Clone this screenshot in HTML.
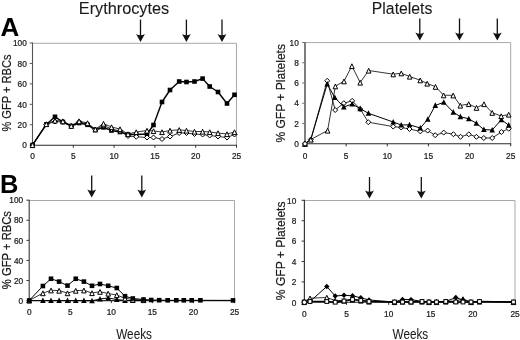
<!DOCTYPE html>
<html><head><meta charset="utf-8"><style>
html,body{margin:0;padding:0;background:#fff;}
body{width:520px;height:340px;overflow:hidden;font-family:"Liberation Sans", sans-serif;}
svg{display:block;will-change:transform;}
</style></head><body>
<svg width="520" height="340" viewBox="0 0 520 340" font-family='"Liberation Sans", sans-serif'><line x1="32.5" y1="43.3" x2="236.5" y2="43.3" stroke="#a8a8a8" stroke-width="1"/>
<line x1="236.5" y1="43.3" x2="236.5" y2="145.2" stroke="#a8a8a8" stroke-width="1"/>
<line x1="32.5" y1="42.5" x2="32.5" y2="145.7" stroke="#555" stroke-width="1.1"/>
<line x1="32.0" y1="145.2" x2="237.0" y2="145.2" stroke="#2a2a2a" stroke-width="1.1"/>
<line x1="29.7" y1="145.2" x2="32.5" y2="145.2" stroke="#555" stroke-width="1"/>
<text x="26.8" y="148.39999999999998" font-size="8.3" text-anchor="end" font-weight="normal" fill="#1a1a1a" stroke="#1a1a1a" stroke-width="0.22">0</text>
<line x1="29.7" y1="124.75999999999999" x2="32.5" y2="124.75999999999999" stroke="#555" stroke-width="1"/>
<text x="26.8" y="127.96" font-size="8.3" text-anchor="end" font-weight="normal" fill="#1a1a1a" stroke="#1a1a1a" stroke-width="0.22">20</text>
<line x1="29.7" y1="104.32" x2="32.5" y2="104.32" stroke="#555" stroke-width="1"/>
<text x="26.8" y="107.52" font-size="8.3" text-anchor="end" font-weight="normal" fill="#1a1a1a" stroke="#1a1a1a" stroke-width="0.22">40</text>
<line x1="29.7" y1="83.88" x2="32.5" y2="83.88" stroke="#555" stroke-width="1"/>
<text x="26.8" y="87.08" font-size="8.3" text-anchor="end" font-weight="normal" fill="#1a1a1a" stroke="#1a1a1a" stroke-width="0.22">60</text>
<line x1="29.7" y1="63.44" x2="32.5" y2="63.44" stroke="#555" stroke-width="1"/>
<text x="26.8" y="66.64" font-size="8.3" text-anchor="end" font-weight="normal" fill="#1a1a1a" stroke="#1a1a1a" stroke-width="0.22">80</text>
<line x1="29.7" y1="43.0" x2="32.5" y2="43.0" stroke="#555" stroke-width="1"/>
<text x="26.8" y="46.2" font-size="8.3" text-anchor="end" font-weight="normal" fill="#1a1a1a" stroke="#1a1a1a" stroke-width="0.22">100</text>
<line x1="32.5" y1="145.2" x2="32.5" y2="147.7" stroke="#2a2a2a" stroke-width="1"/>
<text x="32.5" y="159.20000000000002" font-size="8.3" text-anchor="middle" font-weight="normal" fill="#1a1a1a" stroke="#1a1a1a" stroke-width="0.22">0</text>
<line x1="73.3" y1="145.2" x2="73.3" y2="147.7" stroke="#2a2a2a" stroke-width="1"/>
<text x="73.3" y="159.20000000000002" font-size="8.3" text-anchor="middle" font-weight="normal" fill="#1a1a1a" stroke="#1a1a1a" stroke-width="0.22">5</text>
<line x1="114.1" y1="145.2" x2="114.1" y2="147.7" stroke="#2a2a2a" stroke-width="1"/>
<text x="114.1" y="159.20000000000002" font-size="8.3" text-anchor="middle" font-weight="normal" fill="#1a1a1a" stroke="#1a1a1a" stroke-width="0.22">10</text>
<line x1="154.9" y1="145.2" x2="154.9" y2="147.7" stroke="#2a2a2a" stroke-width="1"/>
<text x="154.9" y="159.20000000000002" font-size="8.3" text-anchor="middle" font-weight="normal" fill="#1a1a1a" stroke="#1a1a1a" stroke-width="0.22">15</text>
<line x1="195.7" y1="145.2" x2="195.7" y2="147.7" stroke="#2a2a2a" stroke-width="1"/>
<text x="195.7" y="159.20000000000002" font-size="8.3" text-anchor="middle" font-weight="normal" fill="#1a1a1a" stroke="#1a1a1a" stroke-width="0.22">20</text>
<line x1="236.5" y1="145.2" x2="236.5" y2="147.7" stroke="#2a2a2a" stroke-width="1"/>
<text x="236.5" y="159.20000000000002" font-size="8.3" text-anchor="middle" font-weight="normal" fill="#1a1a1a" stroke="#1a1a1a" stroke-width="0.22">25</text>
<path d="M32.50,145.00 L46.30,124.50 L55.00,116.80 L62.90,122.00 L71.25,126.00 L79.10,123.00 L87.50,124.80 L95.30,130.00 L103.50,127.40 L111.50,130.50 L120.00,132.00 L128.00,134.50 L136.20,134.50 L147.00,134.00 L153.50,125.00 L162.00,102.00 L170.00,90.00 L179.20,81.50 L186.50,82.00 L194.50,81.50 L202.60,78.60 L209.70,86.50 L218.00,92.00 L227.00,103.50 L234.50,94.80" fill="none" stroke="#000" stroke-width="1.4" stroke-linejoin="round"/>
<rect x="30.20" y="142.70" width="4.6" height="4.6" fill="#000"/>
<rect x="44.00" y="122.20" width="4.6" height="4.6" fill="#000"/>
<rect x="52.70" y="114.50" width="4.6" height="4.6" fill="#000"/>
<rect x="60.60" y="119.70" width="4.6" height="4.6" fill="#000"/>
<rect x="68.95" y="123.70" width="4.6" height="4.6" fill="#000"/>
<rect x="76.80" y="120.70" width="4.6" height="4.6" fill="#000"/>
<rect x="85.20" y="122.50" width="4.6" height="4.6" fill="#000"/>
<rect x="93.00" y="127.70" width="4.6" height="4.6" fill="#000"/>
<rect x="101.20" y="125.10" width="4.6" height="4.6" fill="#000"/>
<rect x="109.20" y="128.20" width="4.6" height="4.6" fill="#000"/>
<rect x="117.70" y="129.70" width="4.6" height="4.6" fill="#000"/>
<rect x="125.70" y="132.20" width="4.6" height="4.6" fill="#000"/>
<rect x="133.90" y="132.20" width="4.6" height="4.6" fill="#000"/>
<rect x="144.70" y="131.70" width="4.6" height="4.6" fill="#000"/>
<rect x="151.20" y="122.70" width="4.6" height="4.6" fill="#000"/>
<rect x="159.70" y="99.70" width="4.6" height="4.6" fill="#000"/>
<rect x="167.70" y="87.70" width="4.6" height="4.6" fill="#000"/>
<rect x="176.90" y="79.20" width="4.6" height="4.6" fill="#000"/>
<rect x="184.20" y="79.70" width="4.6" height="4.6" fill="#000"/>
<rect x="192.20" y="79.20" width="4.6" height="4.6" fill="#000"/>
<rect x="200.30" y="76.30" width="4.6" height="4.6" fill="#000"/>
<rect x="207.40" y="84.20" width="4.6" height="4.6" fill="#000"/>
<rect x="215.70" y="89.70" width="4.6" height="4.6" fill="#000"/>
<rect x="224.70" y="101.20" width="4.6" height="4.6" fill="#000"/>
<rect x="232.20" y="92.50" width="4.6" height="4.6" fill="#000"/>
<path d="M32.50,145.00 L46.30,124.50 L55.00,121.50 L62.90,122.00 L71.25,126.00 L79.10,122.00 L87.50,124.00 L95.30,129.50 L103.50,125.50 L111.50,129.00 L120.00,131.00 L128.00,136.00 L136.20,136.75 L147.00,137.50 L153.50,137.50 L162.00,139.00 L170.00,136.50 L179.20,133.00 L186.50,133.00 L194.50,134.00 L202.60,134.50 L209.70,135.50 L218.00,136.50 L227.00,137.50 L234.50,134.50" fill="none" stroke="#000" stroke-width="0.8" stroke-linejoin="round"/>
<path d="M32.50,142.50 L35.00,145.00 L32.50,147.50 L30.00,145.00 Z" fill="#fff" stroke="#000" stroke-width="1"/>
<path d="M46.30,122.00 L48.80,124.50 L46.30,127.00 L43.80,124.50 Z" fill="#fff" stroke="#000" stroke-width="1"/>
<path d="M55.00,119.00 L57.50,121.50 L55.00,124.00 L52.50,121.50 Z" fill="#fff" stroke="#000" stroke-width="1"/>
<path d="M62.90,119.50 L65.40,122.00 L62.90,124.50 L60.40,122.00 Z" fill="#fff" stroke="#000" stroke-width="1"/>
<path d="M71.25,123.50 L73.75,126.00 L71.25,128.50 L68.75,126.00 Z" fill="#fff" stroke="#000" stroke-width="1"/>
<path d="M79.10,119.50 L81.60,122.00 L79.10,124.50 L76.60,122.00 Z" fill="#fff" stroke="#000" stroke-width="1"/>
<path d="M87.50,121.50 L90.00,124.00 L87.50,126.50 L85.00,124.00 Z" fill="#fff" stroke="#000" stroke-width="1"/>
<path d="M95.30,127.00 L97.80,129.50 L95.30,132.00 L92.80,129.50 Z" fill="#fff" stroke="#000" stroke-width="1"/>
<path d="M103.50,123.00 L106.00,125.50 L103.50,128.00 L101.00,125.50 Z" fill="#fff" stroke="#000" stroke-width="1"/>
<path d="M111.50,126.50 L114.00,129.00 L111.50,131.50 L109.00,129.00 Z" fill="#fff" stroke="#000" stroke-width="1"/>
<path d="M120.00,128.50 L122.50,131.00 L120.00,133.50 L117.50,131.00 Z" fill="#fff" stroke="#000" stroke-width="1"/>
<path d="M128.00,133.50 L130.50,136.00 L128.00,138.50 L125.50,136.00 Z" fill="#fff" stroke="#000" stroke-width="1"/>
<path d="M136.20,134.25 L138.70,136.75 L136.20,139.25 L133.70,136.75 Z" fill="#fff" stroke="#000" stroke-width="1"/>
<path d="M147.00,135.00 L149.50,137.50 L147.00,140.00 L144.50,137.50 Z" fill="#fff" stroke="#000" stroke-width="1"/>
<path d="M153.50,135.00 L156.00,137.50 L153.50,140.00 L151.00,137.50 Z" fill="#fff" stroke="#000" stroke-width="1"/>
<path d="M162.00,136.50 L164.50,139.00 L162.00,141.50 L159.50,139.00 Z" fill="#fff" stroke="#000" stroke-width="1"/>
<path d="M170.00,134.00 L172.50,136.50 L170.00,139.00 L167.50,136.50 Z" fill="#fff" stroke="#000" stroke-width="1"/>
<path d="M179.20,130.50 L181.70,133.00 L179.20,135.50 L176.70,133.00 Z" fill="#fff" stroke="#000" stroke-width="1"/>
<path d="M186.50,130.50 L189.00,133.00 L186.50,135.50 L184.00,133.00 Z" fill="#fff" stroke="#000" stroke-width="1"/>
<path d="M194.50,131.50 L197.00,134.00 L194.50,136.50 L192.00,134.00 Z" fill="#fff" stroke="#000" stroke-width="1"/>
<path d="M202.60,132.00 L205.10,134.50 L202.60,137.00 L200.10,134.50 Z" fill="#fff" stroke="#000" stroke-width="1"/>
<path d="M209.70,133.00 L212.20,135.50 L209.70,138.00 L207.20,135.50 Z" fill="#fff" stroke="#000" stroke-width="1"/>
<path d="M218.00,134.00 L220.50,136.50 L218.00,139.00 L215.50,136.50 Z" fill="#fff" stroke="#000" stroke-width="1"/>
<path d="M227.00,135.00 L229.50,137.50 L227.00,140.00 L224.50,137.50 Z" fill="#fff" stroke="#000" stroke-width="1"/>
<path d="M234.50,132.00 L237.00,134.50 L234.50,137.00 L232.00,134.50 Z" fill="#fff" stroke="#000" stroke-width="1"/>
<path d="M32.50,145.00 L46.30,124.00 L55.00,120.50 L62.90,121.10 L71.25,125.75 L79.10,121.10 L87.50,123.00 L95.30,129.25 L103.50,123.60 L111.50,127.00 L120.00,129.00 L128.00,134.00 L136.20,132.00 L147.00,130.50 L153.50,131.00 L162.00,132.00 L170.00,130.50 L179.20,129.80 L186.50,130.50 L194.50,131.50 L202.60,131.50 L209.70,132.00 L218.00,133.00 L227.00,134.00 L234.50,132.00" fill="none" stroke="#000" stroke-width="0.8" stroke-linejoin="round"/>
<path d="M32.50,142.80 L34.80,147.60 L30.20,147.60 Z" fill="#fff" stroke="#000" stroke-width="1"/>
<path d="M46.30,121.80 L48.60,126.60 L44.00,126.60 Z" fill="#fff" stroke="#000" stroke-width="1"/>
<path d="M55.00,118.30 L57.30,123.10 L52.70,123.10 Z" fill="#fff" stroke="#000" stroke-width="1"/>
<path d="M62.90,118.90 L65.20,123.70 L60.60,123.70 Z" fill="#fff" stroke="#000" stroke-width="1"/>
<path d="M71.25,123.55 L73.55,128.35 L68.95,128.35 Z" fill="#fff" stroke="#000" stroke-width="1"/>
<path d="M79.10,118.90 L81.40,123.70 L76.80,123.70 Z" fill="#fff" stroke="#000" stroke-width="1"/>
<path d="M87.50,120.80 L89.80,125.60 L85.20,125.60 Z" fill="#fff" stroke="#000" stroke-width="1"/>
<path d="M95.30,127.05 L97.60,131.85 L93.00,131.85 Z" fill="#fff" stroke="#000" stroke-width="1"/>
<path d="M103.50,121.40 L105.80,126.20 L101.20,126.20 Z" fill="#fff" stroke="#000" stroke-width="1"/>
<path d="M111.50,124.80 L113.80,129.60 L109.20,129.60 Z" fill="#fff" stroke="#000" stroke-width="1"/>
<path d="M120.00,126.80 L122.30,131.60 L117.70,131.60 Z" fill="#fff" stroke="#000" stroke-width="1"/>
<path d="M128.00,131.80 L130.30,136.60 L125.70,136.60 Z" fill="#fff" stroke="#000" stroke-width="1"/>
<path d="M136.20,129.80 L138.50,134.60 L133.90,134.60 Z" fill="#fff" stroke="#000" stroke-width="1"/>
<path d="M147.00,128.30 L149.30,133.10 L144.70,133.10 Z" fill="#fff" stroke="#000" stroke-width="1"/>
<path d="M153.50,128.80 L155.80,133.60 L151.20,133.60 Z" fill="#fff" stroke="#000" stroke-width="1"/>
<path d="M162.00,129.80 L164.30,134.60 L159.70,134.60 Z" fill="#fff" stroke="#000" stroke-width="1"/>
<path d="M170.00,128.30 L172.30,133.10 L167.70,133.10 Z" fill="#fff" stroke="#000" stroke-width="1"/>
<path d="M179.20,127.60 L181.50,132.40 L176.90,132.40 Z" fill="#fff" stroke="#000" stroke-width="1"/>
<path d="M186.50,128.30 L188.80,133.10 L184.20,133.10 Z" fill="#fff" stroke="#000" stroke-width="1"/>
<path d="M194.50,129.30 L196.80,134.10 L192.20,134.10 Z" fill="#fff" stroke="#000" stroke-width="1"/>
<path d="M202.60,129.30 L204.90,134.10 L200.30,134.10 Z" fill="#fff" stroke="#000" stroke-width="1"/>
<path d="M209.70,129.80 L212.00,134.60 L207.40,134.60 Z" fill="#fff" stroke="#000" stroke-width="1"/>
<path d="M218.00,130.80 L220.30,135.60 L215.70,135.60 Z" fill="#fff" stroke="#000" stroke-width="1"/>
<path d="M227.00,131.80 L229.30,136.60 L224.70,136.60 Z" fill="#fff" stroke="#000" stroke-width="1"/>
<path d="M234.50,129.80 L236.80,134.60 L232.20,134.60 Z" fill="#fff" stroke="#000" stroke-width="1"/>
<line x1="305.0" y1="42.6" x2="510.7" y2="42.6" stroke="#a8a8a8" stroke-width="1"/>
<line x1="510.7" y1="42.6" x2="510.7" y2="143.8" stroke="#a8a8a8" stroke-width="1"/>
<line x1="305.0" y1="42.0" x2="305.0" y2="144.3" stroke="#707070" stroke-width="1.8"/>
<line x1="304.5" y1="143.8" x2="511.2" y2="143.8" stroke="#2a2a2a" stroke-width="1.1"/>
<line x1="302.2" y1="143.8" x2="305.0" y2="143.8" stroke="#707070" stroke-width="1"/>
<text x="298.8" y="147.0" font-size="8.3" text-anchor="end" font-weight="normal" fill="#1a1a1a" stroke="#1a1a1a" stroke-width="0.22">0</text>
<line x1="302.2" y1="123.54" x2="305.0" y2="123.54" stroke="#707070" stroke-width="1"/>
<text x="298.8" y="126.74000000000001" font-size="8.3" text-anchor="end" font-weight="normal" fill="#1a1a1a" stroke="#1a1a1a" stroke-width="0.22">2</text>
<line x1="302.2" y1="103.28" x2="305.0" y2="103.28" stroke="#707070" stroke-width="1"/>
<text x="298.8" y="106.48" font-size="8.3" text-anchor="end" font-weight="normal" fill="#1a1a1a" stroke="#1a1a1a" stroke-width="0.22">4</text>
<line x1="302.2" y1="83.02000000000001" x2="305.0" y2="83.02000000000001" stroke="#707070" stroke-width="1"/>
<text x="298.8" y="86.22000000000001" font-size="8.3" text-anchor="end" font-weight="normal" fill="#1a1a1a" stroke="#1a1a1a" stroke-width="0.22">6</text>
<line x1="302.2" y1="62.760000000000005" x2="305.0" y2="62.760000000000005" stroke="#707070" stroke-width="1"/>
<text x="298.8" y="65.96000000000001" font-size="8.3" text-anchor="end" font-weight="normal" fill="#1a1a1a" stroke="#1a1a1a" stroke-width="0.22">8</text>
<line x1="302.2" y1="42.5" x2="305.0" y2="42.5" stroke="#707070" stroke-width="1"/>
<text x="298.8" y="45.7" font-size="8.3" text-anchor="end" font-weight="normal" fill="#1a1a1a" stroke="#1a1a1a" stroke-width="0.22">10</text>
<line x1="305.0" y1="143.8" x2="305.0" y2="146.3" stroke="#2a2a2a" stroke-width="1"/>
<text x="305.0" y="158.8" font-size="8.3" text-anchor="middle" font-weight="normal" fill="#1a1a1a" stroke="#1a1a1a" stroke-width="0.22">0</text>
<line x1="346.14" y1="143.8" x2="346.14" y2="146.3" stroke="#2a2a2a" stroke-width="1"/>
<text x="346.14" y="158.8" font-size="8.3" text-anchor="middle" font-weight="normal" fill="#1a1a1a" stroke="#1a1a1a" stroke-width="0.22">5</text>
<line x1="387.28" y1="143.8" x2="387.28" y2="146.3" stroke="#2a2a2a" stroke-width="1"/>
<text x="387.28" y="158.8" font-size="8.3" text-anchor="middle" font-weight="normal" fill="#1a1a1a" stroke="#1a1a1a" stroke-width="0.22">10</text>
<line x1="428.42" y1="143.8" x2="428.42" y2="146.3" stroke="#2a2a2a" stroke-width="1"/>
<text x="428.42" y="158.8" font-size="8.3" text-anchor="middle" font-weight="normal" fill="#1a1a1a" stroke="#1a1a1a" stroke-width="0.22">15</text>
<line x1="469.56" y1="143.8" x2="469.56" y2="146.3" stroke="#2a2a2a" stroke-width="1"/>
<text x="469.56" y="158.8" font-size="8.3" text-anchor="middle" font-weight="normal" fill="#1a1a1a" stroke="#1a1a1a" stroke-width="0.22">20</text>
<line x1="510.7" y1="143.8" x2="510.7" y2="146.3" stroke="#2a2a2a" stroke-width="1"/>
<text x="510.7" y="158.8" font-size="8.3" text-anchor="middle" font-weight="normal" fill="#1a1a1a" stroke="#1a1a1a" stroke-width="0.22">25</text>
<path d="M305.00,143.80 L310.80,139.50 L327.20,80.80 L335.20,110.00 L343.80,103.20 L352.20,100.80 L360.20,109.00 L368.30,122.20 L393.20,126.60 L401.20,127.50 L409.50,129.00 L420.30,131.40 L427.70,130.60 L435.20,135.20 L443.70,132.60 L453.40,134.20 L460.50,136.80 L468.80,134.30 L476.40,136.80 L483.80,138.00 L492.20,138.00 L501.40,132.00 L508.70,128.70" fill="none" stroke="#000" stroke-width="0.8" stroke-linejoin="round"/>
<path d="M305.00,143.80 L310.80,139.50 L327.20,84.00 L334.80,97.50 L343.80,107.00 L352.20,104.00 L360.20,108.70 L368.50,113.30 L393.20,122.00 L401.20,125.00 L409.50,124.80 L420.30,128.00 L427.80,119.30 L435.30,105.40 L443.80,102.30 L453.30,112.20 L460.40,116.70 L468.80,118.80 L476.40,123.30 L483.90,129.60 L492.20,130.00 L501.40,119.70 L508.70,125.20" fill="none" stroke="#000" stroke-width="1.0" stroke-linejoin="round"/>
<path d="M305.00,143.80 L310.80,139.50 L327.60,130.50 L335.40,86.20 L344.00,81.20 L351.90,66.00 L360.20,82.50 L368.70,70.50 L393.20,74.20 L401.30,73.20 L409.70,76.50 L420.20,80.20 L427.20,83.50 L435.50,86.70 L443.60,95.20 L453.20,95.30 L460.30,105.50 L468.70,104.00 L476.50,107.70 L484.00,104.00 L492.20,112.70 L501.20,116.00 L508.70,114.50" fill="none" stroke="#000" stroke-width="0.8" stroke-linejoin="round"/>
<path d="M305.00,141.30 L307.50,143.80 L305.00,146.30 L302.50,143.80 Z" fill="#fff" stroke="#000" stroke-width="1"/>
<path d="M310.80,137.00 L313.30,139.50 L310.80,142.00 L308.30,139.50 Z" fill="#fff" stroke="#000" stroke-width="1"/>
<path d="M327.20,78.30 L329.70,80.80 L327.20,83.30 L324.70,80.80 Z" fill="#fff" stroke="#000" stroke-width="1"/>
<path d="M335.20,107.50 L337.70,110.00 L335.20,112.50 L332.70,110.00 Z" fill="#fff" stroke="#000" stroke-width="1"/>
<path d="M343.80,100.70 L346.30,103.20 L343.80,105.70 L341.30,103.20 Z" fill="#fff" stroke="#000" stroke-width="1"/>
<path d="M352.20,98.30 L354.70,100.80 L352.20,103.30 L349.70,100.80 Z" fill="#fff" stroke="#000" stroke-width="1"/>
<path d="M360.20,106.50 L362.70,109.00 L360.20,111.50 L357.70,109.00 Z" fill="#fff" stroke="#000" stroke-width="1"/>
<path d="M368.30,119.70 L370.80,122.20 L368.30,124.70 L365.80,122.20 Z" fill="#fff" stroke="#000" stroke-width="1"/>
<path d="M393.20,124.10 L395.70,126.60 L393.20,129.10 L390.70,126.60 Z" fill="#fff" stroke="#000" stroke-width="1"/>
<path d="M401.20,125.00 L403.70,127.50 L401.20,130.00 L398.70,127.50 Z" fill="#fff" stroke="#000" stroke-width="1"/>
<path d="M409.50,126.50 L412.00,129.00 L409.50,131.50 L407.00,129.00 Z" fill="#fff" stroke="#000" stroke-width="1"/>
<path d="M420.30,128.90 L422.80,131.40 L420.30,133.90 L417.80,131.40 Z" fill="#fff" stroke="#000" stroke-width="1"/>
<path d="M427.70,128.10 L430.20,130.60 L427.70,133.10 L425.20,130.60 Z" fill="#fff" stroke="#000" stroke-width="1"/>
<path d="M435.20,132.70 L437.70,135.20 L435.20,137.70 L432.70,135.20 Z" fill="#fff" stroke="#000" stroke-width="1"/>
<path d="M443.70,130.10 L446.20,132.60 L443.70,135.10 L441.20,132.60 Z" fill="#fff" stroke="#000" stroke-width="1"/>
<path d="M453.40,131.70 L455.90,134.20 L453.40,136.70 L450.90,134.20 Z" fill="#fff" stroke="#000" stroke-width="1"/>
<path d="M460.50,134.30 L463.00,136.80 L460.50,139.30 L458.00,136.80 Z" fill="#fff" stroke="#000" stroke-width="1"/>
<path d="M468.80,131.80 L471.30,134.30 L468.80,136.80 L466.30,134.30 Z" fill="#fff" stroke="#000" stroke-width="1"/>
<path d="M476.40,134.30 L478.90,136.80 L476.40,139.30 L473.90,136.80 Z" fill="#fff" stroke="#000" stroke-width="1"/>
<path d="M483.80,135.50 L486.30,138.00 L483.80,140.50 L481.30,138.00 Z" fill="#fff" stroke="#000" stroke-width="1"/>
<path d="M492.20,135.50 L494.70,138.00 L492.20,140.50 L489.70,138.00 Z" fill="#fff" stroke="#000" stroke-width="1"/>
<path d="M501.40,129.50 L503.90,132.00 L501.40,134.50 L498.90,132.00 Z" fill="#fff" stroke="#000" stroke-width="1"/>
<path d="M508.70,126.20 L511.20,128.70 L508.70,131.20 L506.20,128.70 Z" fill="#fff" stroke="#000" stroke-width="1"/>
<path d="M305.00,140.70 L307.80,146.30 L302.20,146.30 Z" fill="#000"/>
<path d="M310.80,136.40 L313.60,142.00 L308.00,142.00 Z" fill="#000"/>
<path d="M327.20,80.90 L330.00,86.50 L324.40,86.50 Z" fill="#000"/>
<path d="M334.80,94.40 L337.60,100.00 L332.00,100.00 Z" fill="#000"/>
<path d="M343.80,103.90 L346.60,109.50 L341.00,109.50 Z" fill="#000"/>
<path d="M352.20,100.90 L355.00,106.50 L349.40,106.50 Z" fill="#000"/>
<path d="M360.20,105.60 L363.00,111.20 L357.40,111.20 Z" fill="#000"/>
<path d="M368.50,110.20 L371.30,115.80 L365.70,115.80 Z" fill="#000"/>
<path d="M393.20,118.90 L396.00,124.50 L390.40,124.50 Z" fill="#000"/>
<path d="M401.20,121.90 L404.00,127.50 L398.40,127.50 Z" fill="#000"/>
<path d="M409.50,121.70 L412.30,127.30 L406.70,127.30 Z" fill="#000"/>
<path d="M420.30,124.90 L423.10,130.50 L417.50,130.50 Z" fill="#000"/>
<path d="M427.80,116.20 L430.60,121.80 L425.00,121.80 Z" fill="#000"/>
<path d="M435.30,102.30 L438.10,107.90 L432.50,107.90 Z" fill="#000"/>
<path d="M443.80,99.20 L446.60,104.80 L441.00,104.80 Z" fill="#000"/>
<path d="M453.30,109.10 L456.10,114.70 L450.50,114.70 Z" fill="#000"/>
<path d="M460.40,113.60 L463.20,119.20 L457.60,119.20 Z" fill="#000"/>
<path d="M468.80,115.70 L471.60,121.30 L466.00,121.30 Z" fill="#000"/>
<path d="M476.40,120.20 L479.20,125.80 L473.60,125.80 Z" fill="#000"/>
<path d="M483.90,126.50 L486.70,132.10 L481.10,132.10 Z" fill="#000"/>
<path d="M492.20,126.90 L495.00,132.50 L489.40,132.50 Z" fill="#000"/>
<path d="M501.40,116.60 L504.20,122.20 L498.60,122.20 Z" fill="#000"/>
<path d="M508.70,122.10 L511.50,127.70 L505.90,127.70 Z" fill="#000"/>
<path d="M305.00,141.60 L307.30,146.40 L302.70,146.40 Z" fill="#fff" stroke="#000" stroke-width="1"/>
<path d="M310.80,137.30 L313.10,142.10 L308.50,142.10 Z" fill="#fff" stroke="#000" stroke-width="1"/>
<path d="M327.60,128.30 L329.90,133.10 L325.30,133.10 Z" fill="#fff" stroke="#000" stroke-width="1"/>
<path d="M335.40,84.00 L337.70,88.80 L333.10,88.80 Z" fill="#fff" stroke="#000" stroke-width="1"/>
<path d="M344.00,79.00 L346.30,83.80 L341.70,83.80 Z" fill="#fff" stroke="#000" stroke-width="1"/>
<path d="M351.90,63.80 L354.20,68.60 L349.60,68.60 Z" fill="#fff" stroke="#000" stroke-width="1"/>
<path d="M360.20,80.30 L362.50,85.10 L357.90,85.10 Z" fill="#fff" stroke="#000" stroke-width="1"/>
<path d="M368.70,68.30 L371.00,73.10 L366.40,73.10 Z" fill="#fff" stroke="#000" stroke-width="1"/>
<path d="M393.20,72.00 L395.50,76.80 L390.90,76.80 Z" fill="#fff" stroke="#000" stroke-width="1"/>
<path d="M401.30,71.00 L403.60,75.80 L399.00,75.80 Z" fill="#fff" stroke="#000" stroke-width="1"/>
<path d="M409.70,74.30 L412.00,79.10 L407.40,79.10 Z" fill="#fff" stroke="#000" stroke-width="1"/>
<path d="M420.20,78.00 L422.50,82.80 L417.90,82.80 Z" fill="#fff" stroke="#000" stroke-width="1"/>
<path d="M427.20,81.30 L429.50,86.10 L424.90,86.10 Z" fill="#fff" stroke="#000" stroke-width="1"/>
<path d="M435.50,84.50 L437.80,89.30 L433.20,89.30 Z" fill="#fff" stroke="#000" stroke-width="1"/>
<path d="M443.60,93.00 L445.90,97.80 L441.30,97.80 Z" fill="#fff" stroke="#000" stroke-width="1"/>
<path d="M453.20,93.10 L455.50,97.90 L450.90,97.90 Z" fill="#fff" stroke="#000" stroke-width="1"/>
<path d="M460.30,103.30 L462.60,108.10 L458.00,108.10 Z" fill="#fff" stroke="#000" stroke-width="1"/>
<path d="M468.70,101.80 L471.00,106.60 L466.40,106.60 Z" fill="#fff" stroke="#000" stroke-width="1"/>
<path d="M476.50,105.50 L478.80,110.30 L474.20,110.30 Z" fill="#fff" stroke="#000" stroke-width="1"/>
<path d="M484.00,101.80 L486.30,106.60 L481.70,106.60 Z" fill="#fff" stroke="#000" stroke-width="1"/>
<path d="M492.20,110.50 L494.50,115.30 L489.90,115.30 Z" fill="#fff" stroke="#000" stroke-width="1"/>
<path d="M501.20,113.80 L503.50,118.60 L498.90,118.60 Z" fill="#fff" stroke="#000" stroke-width="1"/>
<path d="M508.70,112.30 L511.00,117.10 L506.40,117.10 Z" fill="#fff" stroke="#000" stroke-width="1"/>
<circle cx="305.00" cy="143.80" r="2.10" fill="#fff" stroke="#000" stroke-width="1"/>
<line x1="29.2" y1="200.5" x2="234.5" y2="200.5" stroke="#a8a8a8" stroke-width="1"/>
<line x1="234.5" y1="200.5" x2="234.5" y2="300.6" stroke="#a8a8a8" stroke-width="1"/>
<line x1="29.2" y1="199.7" x2="29.2" y2="301.1" stroke="#383838" stroke-width="1.1"/>
<line x1="28.7" y1="300.6" x2="235.0" y2="300.6" stroke="#2a2a2a" stroke-width="1.1"/>
<line x1="26.4" y1="300.6" x2="29.2" y2="300.6" stroke="#383838" stroke-width="1"/>
<text x="23.2" y="303.8" font-size="8.3" text-anchor="end" font-weight="normal" fill="#1a1a1a" stroke="#1a1a1a" stroke-width="0.22">0</text>
<line x1="26.4" y1="280.52000000000004" x2="29.2" y2="280.52000000000004" stroke="#383838" stroke-width="1"/>
<text x="23.2" y="283.72" font-size="8.3" text-anchor="end" font-weight="normal" fill="#1a1a1a" stroke="#1a1a1a" stroke-width="0.22">20</text>
<line x1="26.4" y1="260.44" x2="29.2" y2="260.44" stroke="#383838" stroke-width="1"/>
<text x="23.2" y="263.64" font-size="8.3" text-anchor="end" font-weight="normal" fill="#1a1a1a" stroke="#1a1a1a" stroke-width="0.22">40</text>
<line x1="26.4" y1="240.36" x2="29.2" y2="240.36" stroke="#383838" stroke-width="1"/>
<text x="23.2" y="243.56" font-size="8.3" text-anchor="end" font-weight="normal" fill="#1a1a1a" stroke="#1a1a1a" stroke-width="0.22">60</text>
<line x1="26.4" y1="220.28" x2="29.2" y2="220.28" stroke="#383838" stroke-width="1"/>
<text x="23.2" y="223.48" font-size="8.3" text-anchor="end" font-weight="normal" fill="#1a1a1a" stroke="#1a1a1a" stroke-width="0.22">80</text>
<line x1="26.4" y1="200.2" x2="29.2" y2="200.2" stroke="#383838" stroke-width="1"/>
<text x="23.2" y="203.39999999999998" font-size="8.3" text-anchor="end" font-weight="normal" fill="#1a1a1a" stroke="#1a1a1a" stroke-width="0.22">100</text>
<line x1="29.2" y1="300.6" x2="29.2" y2="303.1" stroke="#2a2a2a" stroke-width="1"/>
<text x="29.2" y="315.2" font-size="8.3" text-anchor="middle" font-weight="normal" fill="#1a1a1a" stroke="#1a1a1a" stroke-width="0.22">0</text>
<line x1="70.26" y1="300.6" x2="70.26" y2="303.1" stroke="#2a2a2a" stroke-width="1"/>
<text x="70.26" y="315.2" font-size="8.3" text-anchor="middle" font-weight="normal" fill="#1a1a1a" stroke="#1a1a1a" stroke-width="0.22">5</text>
<line x1="111.32000000000001" y1="300.6" x2="111.32000000000001" y2="303.1" stroke="#2a2a2a" stroke-width="1"/>
<text x="111.32000000000001" y="315.2" font-size="8.3" text-anchor="middle" font-weight="normal" fill="#1a1a1a" stroke="#1a1a1a" stroke-width="0.22">10</text>
<line x1="152.38" y1="300.6" x2="152.38" y2="303.1" stroke="#2a2a2a" stroke-width="1"/>
<text x="152.38" y="315.2" font-size="8.3" text-anchor="middle" font-weight="normal" fill="#1a1a1a" stroke="#1a1a1a" stroke-width="0.22">15</text>
<line x1="193.44" y1="300.6" x2="193.44" y2="303.1" stroke="#2a2a2a" stroke-width="1"/>
<text x="193.44" y="315.2" font-size="8.3" text-anchor="middle" font-weight="normal" fill="#1a1a1a" stroke="#1a1a1a" stroke-width="0.22">20</text>
<line x1="234.5" y1="300.6" x2="234.5" y2="303.1" stroke="#2a2a2a" stroke-width="1"/>
<text x="234.5" y="315.2" font-size="8.3" text-anchor="middle" font-weight="normal" fill="#1a1a1a" stroke="#1a1a1a" stroke-width="0.22">25</text>
<path d="M29.20,300.50 L42.90,300.60 L51.00,300.60 L59.10,300.60 L67.50,300.60 L75.75,300.60 L83.90,300.60 L92.00,300.80 L100.00,299.00 L108.20,298.00 L116.80,299.50 L125.00,300.50 L132.80,300.60 L143.50,300.60" fill="none" stroke="#000" stroke-width="1.0" stroke-linejoin="round"/>
<path d="M29.20,300.50 L42.90,293.10 L51.00,290.30 L59.10,290.60 L67.50,293.10 L75.75,290.60 L83.90,290.30 L92.00,293.00 L100.00,291.70 L108.20,293.50 L116.80,295.00 L125.00,298.30 L132.80,299.50 L143.50,300.00" fill="none" stroke="#000" stroke-width="0.8" stroke-linejoin="round"/>
<path d="M29.20,300.50 L42.90,286.00 L51.00,278.75 L59.10,281.60 L67.50,285.60 L75.75,278.75 L83.90,281.60 L92.00,285.80 L100.00,284.00 L108.20,285.80 L116.80,288.00 L125.00,296.20 L132.80,298.50 L143.50,299.50 L151.20,300.00 L159.20,300.20 L167.70,300.30 L176.30,300.30 L183.80,300.30 L191.70,300.30 L200.40,300.30 L233.00,300.40" fill="none" stroke="#000" stroke-width="1.0" stroke-linejoin="round"/>
<path d="M29.20,297.40 L32.00,303.00 L26.40,303.00 Z" fill="#000"/>
<path d="M42.90,297.50 L45.70,303.10 L40.10,303.10 Z" fill="#000"/>
<path d="M51.00,297.50 L53.80,303.10 L48.20,303.10 Z" fill="#000"/>
<path d="M59.10,297.50 L61.90,303.10 L56.30,303.10 Z" fill="#000"/>
<path d="M67.50,297.50 L70.30,303.10 L64.70,303.10 Z" fill="#000"/>
<path d="M75.75,297.50 L78.55,303.10 L72.95,303.10 Z" fill="#000"/>
<path d="M83.90,297.50 L86.70,303.10 L81.10,303.10 Z" fill="#000"/>
<path d="M92.00,297.70 L94.80,303.30 L89.20,303.30 Z" fill="#000"/>
<path d="M100.00,295.90 L102.80,301.50 L97.20,301.50 Z" fill="#000"/>
<path d="M108.20,294.90 L111.00,300.50 L105.40,300.50 Z" fill="#000"/>
<path d="M116.80,296.40 L119.60,302.00 L114.00,302.00 Z" fill="#000"/>
<path d="M125.00,297.40 L127.80,303.00 L122.20,303.00 Z" fill="#000"/>
<path d="M132.80,297.50 L135.60,303.10 L130.00,303.10 Z" fill="#000"/>
<path d="M143.50,297.50 L146.30,303.10 L140.70,303.10 Z" fill="#000"/>
<path d="M29.20,298.30 L31.50,303.10 L26.90,303.10 Z" fill="#fff" stroke="#000" stroke-width="1"/>
<path d="M42.90,290.90 L45.20,295.70 L40.60,295.70 Z" fill="#fff" stroke="#000" stroke-width="1"/>
<path d="M51.00,288.10 L53.30,292.90 L48.70,292.90 Z" fill="#fff" stroke="#000" stroke-width="1"/>
<path d="M59.10,288.40 L61.40,293.20 L56.80,293.20 Z" fill="#fff" stroke="#000" stroke-width="1"/>
<path d="M67.50,290.90 L69.80,295.70 L65.20,295.70 Z" fill="#fff" stroke="#000" stroke-width="1"/>
<path d="M75.75,288.40 L78.05,293.20 L73.45,293.20 Z" fill="#fff" stroke="#000" stroke-width="1"/>
<path d="M83.90,288.10 L86.20,292.90 L81.60,292.90 Z" fill="#fff" stroke="#000" stroke-width="1"/>
<path d="M92.00,290.80 L94.30,295.60 L89.70,295.60 Z" fill="#fff" stroke="#000" stroke-width="1"/>
<path d="M100.00,289.50 L102.30,294.30 L97.70,294.30 Z" fill="#fff" stroke="#000" stroke-width="1"/>
<path d="M108.20,291.30 L110.50,296.10 L105.90,296.10 Z" fill="#fff" stroke="#000" stroke-width="1"/>
<path d="M116.80,292.80 L119.10,297.60 L114.50,297.60 Z" fill="#fff" stroke="#000" stroke-width="1"/>
<path d="M125.00,296.10 L127.30,300.90 L122.70,300.90 Z" fill="#fff" stroke="#000" stroke-width="1"/>
<path d="M132.80,297.30 L135.10,302.10 L130.50,302.10 Z" fill="#fff" stroke="#000" stroke-width="1"/>
<path d="M143.50,297.80 L145.80,302.60 L141.20,302.60 Z" fill="#fff" stroke="#000" stroke-width="1"/>
<rect x="26.90" y="298.20" width="4.6" height="4.6" fill="#000"/>
<rect x="40.60" y="283.70" width="4.6" height="4.6" fill="#000"/>
<rect x="48.70" y="276.45" width="4.6" height="4.6" fill="#000"/>
<rect x="56.80" y="279.30" width="4.6" height="4.6" fill="#000"/>
<rect x="65.20" y="283.30" width="4.6" height="4.6" fill="#000"/>
<rect x="73.45" y="276.45" width="4.6" height="4.6" fill="#000"/>
<rect x="81.60" y="279.30" width="4.6" height="4.6" fill="#000"/>
<rect x="89.70" y="283.50" width="4.6" height="4.6" fill="#000"/>
<rect x="97.70" y="281.70" width="4.6" height="4.6" fill="#000"/>
<rect x="105.90" y="283.50" width="4.6" height="4.6" fill="#000"/>
<rect x="114.50" y="285.70" width="4.6" height="4.6" fill="#000"/>
<rect x="122.70" y="293.90" width="4.6" height="4.6" fill="#000"/>
<rect x="130.50" y="296.20" width="4.6" height="4.6" fill="#000"/>
<rect x="141.20" y="297.20" width="4.6" height="4.6" fill="#000"/>
<rect x="148.90" y="297.70" width="4.6" height="4.6" fill="#000"/>
<rect x="156.90" y="297.90" width="4.6" height="4.6" fill="#000"/>
<rect x="165.40" y="298.00" width="4.6" height="4.6" fill="#000"/>
<rect x="174.00" y="298.00" width="4.6" height="4.6" fill="#000"/>
<rect x="181.50" y="298.00" width="4.6" height="4.6" fill="#000"/>
<rect x="189.40" y="298.00" width="4.6" height="4.6" fill="#000"/>
<rect x="198.10" y="298.00" width="4.6" height="4.6" fill="#000"/>
<rect x="230.70" y="298.10" width="4.6" height="4.6" fill="#000"/>
<line x1="304.4" y1="200.5" x2="515.0" y2="200.5" stroke="#a8a8a8" stroke-width="1"/>
<line x1="515.0" y1="200.5" x2="515.0" y2="302.3" stroke="#a8a8a8" stroke-width="1"/>
<line x1="304.4" y1="199.8" x2="304.4" y2="302.8" stroke="#383838" stroke-width="1.2"/>
<line x1="303.9" y1="302.3" x2="515.5" y2="302.3" stroke="#2a2a2a" stroke-width="1.1"/>
<line x1="301.59999999999997" y1="302.3" x2="304.4" y2="302.3" stroke="#383838" stroke-width="1"/>
<text x="296.3" y="305.5" font-size="8.3" text-anchor="end" font-weight="normal" fill="#1a1a1a" stroke="#1a1a1a" stroke-width="0.22">0</text>
<line x1="301.59999999999997" y1="281.90000000000003" x2="304.4" y2="281.90000000000003" stroke="#383838" stroke-width="1"/>
<text x="296.3" y="285.1" font-size="8.3" text-anchor="end" font-weight="normal" fill="#1a1a1a" stroke="#1a1a1a" stroke-width="0.22">2</text>
<line x1="301.59999999999997" y1="261.5" x2="304.4" y2="261.5" stroke="#383838" stroke-width="1"/>
<text x="296.3" y="264.7" font-size="8.3" text-anchor="end" font-weight="normal" fill="#1a1a1a" stroke="#1a1a1a" stroke-width="0.22">4</text>
<line x1="301.59999999999997" y1="241.10000000000002" x2="304.4" y2="241.10000000000002" stroke="#383838" stroke-width="1"/>
<text x="296.3" y="244.3" font-size="8.3" text-anchor="end" font-weight="normal" fill="#1a1a1a" stroke="#1a1a1a" stroke-width="0.22">6</text>
<line x1="301.59999999999997" y1="220.70000000000002" x2="304.4" y2="220.70000000000002" stroke="#383838" stroke-width="1"/>
<text x="296.3" y="223.9" font-size="8.3" text-anchor="end" font-weight="normal" fill="#1a1a1a" stroke="#1a1a1a" stroke-width="0.22">8</text>
<line x1="301.59999999999997" y1="200.3" x2="304.4" y2="200.3" stroke="#383838" stroke-width="1"/>
<text x="296.3" y="203.5" font-size="8.3" text-anchor="end" font-weight="normal" fill="#1a1a1a" stroke="#1a1a1a" stroke-width="0.22">10</text>
<line x1="304.4" y1="302.3" x2="304.4" y2="304.8" stroke="#2a2a2a" stroke-width="1"/>
<text x="304.4" y="317.2" font-size="8.3" text-anchor="middle" font-weight="normal" fill="#1a1a1a" stroke="#1a1a1a" stroke-width="0.22">0</text>
<line x1="346.52" y1="302.3" x2="346.52" y2="304.8" stroke="#2a2a2a" stroke-width="1"/>
<text x="346.52" y="317.2" font-size="8.3" text-anchor="middle" font-weight="normal" fill="#1a1a1a" stroke="#1a1a1a" stroke-width="0.22">5</text>
<line x1="388.64" y1="302.3" x2="388.64" y2="304.8" stroke="#2a2a2a" stroke-width="1"/>
<text x="388.64" y="317.2" font-size="8.3" text-anchor="middle" font-weight="normal" fill="#1a1a1a" stroke="#1a1a1a" stroke-width="0.22">10</text>
<line x1="430.76" y1="302.3" x2="430.76" y2="304.8" stroke="#2a2a2a" stroke-width="1"/>
<text x="430.76" y="317.2" font-size="8.3" text-anchor="middle" font-weight="normal" fill="#1a1a1a" stroke="#1a1a1a" stroke-width="0.22">15</text>
<line x1="472.88" y1="302.3" x2="472.88" y2="304.8" stroke="#2a2a2a" stroke-width="1"/>
<text x="472.88" y="317.2" font-size="8.3" text-anchor="middle" font-weight="normal" fill="#1a1a1a" stroke="#1a1a1a" stroke-width="0.22">20</text>
<line x1="515.0" y1="302.3" x2="515.0" y2="304.8" stroke="#2a2a2a" stroke-width="1"/>
<text x="515.0" y="317.2" font-size="8.3" text-anchor="middle" font-weight="normal" fill="#1a1a1a" stroke="#1a1a1a" stroke-width="0.22">25</text>
<path d="M304.20,302.00 L310.00,298.20 L326.80,297.50 L335.20,300.50 L344.00,300.50 L352.50,299.50 L360.80,300.50 L369.00,301.50 L394.50,302.00 L402.50,301.50 L411.00,301.50 L422.00,301.50 L429.00,302.00 L436.50,302.00 L445.80,301.50 L455.80,301.00 L463.00,299.00 L471.00,302.00 L479.50,301.50 L513.50,302.00" fill="none" stroke="#000" stroke-width="0.8" stroke-linejoin="round"/>
<path d="M304.20,302.00 L310.00,301.50 L326.80,286.50 L335.20,296.00 L344.00,295.30 L352.50,295.80 L360.80,297.80 L369.00,300.00 L394.50,302.00 L402.50,299.40 L411.00,299.60 L422.00,301.50 L429.00,301.80 L436.50,301.80 L445.80,301.50 L455.80,297.50 L463.00,300.00 L471.00,302.00 L479.50,301.50 L513.50,302.00" fill="none" stroke="#000" stroke-width="1.0" stroke-linejoin="round"/>
<path d="M304.20,302.00 L310.00,301.50 L326.80,301.50 L335.20,302.20 L344.00,301.00 L352.50,299.50 L360.80,300.50 L369.00,301.50 L394.50,302.00 L402.50,302.00 L411.00,302.00 L422.00,301.50 L429.00,302.00 L436.50,302.00 L445.80,301.50 L455.80,302.00 L463.00,302.00 L471.00,302.00 L479.50,301.50 L513.50,302.00" fill="none" stroke="#000" stroke-width="1.6" stroke-linejoin="round"/>
<path d="M304.20,299.80 L306.50,304.60 L301.90,304.60 Z" fill="#fff" stroke="#000" stroke-width="1"/>
<path d="M310.00,296.00 L312.30,300.80 L307.70,300.80 Z" fill="#fff" stroke="#000" stroke-width="1"/>
<path d="M326.80,295.30 L329.10,300.10 L324.50,300.10 Z" fill="#fff" stroke="#000" stroke-width="1"/>
<path d="M335.20,298.30 L337.50,303.10 L332.90,303.10 Z" fill="#fff" stroke="#000" stroke-width="1"/>
<path d="M344.00,298.30 L346.30,303.10 L341.70,303.10 Z" fill="#fff" stroke="#000" stroke-width="1"/>
<path d="M352.50,297.30 L354.80,302.10 L350.20,302.10 Z" fill="#fff" stroke="#000" stroke-width="1"/>
<path d="M360.80,298.30 L363.10,303.10 L358.50,303.10 Z" fill="#fff" stroke="#000" stroke-width="1"/>
<path d="M369.00,299.30 L371.30,304.10 L366.70,304.10 Z" fill="#fff" stroke="#000" stroke-width="1"/>
<path d="M394.50,299.80 L396.80,304.60 L392.20,304.60 Z" fill="#fff" stroke="#000" stroke-width="1"/>
<path d="M402.50,299.30 L404.80,304.10 L400.20,304.10 Z" fill="#fff" stroke="#000" stroke-width="1"/>
<path d="M411.00,299.30 L413.30,304.10 L408.70,304.10 Z" fill="#fff" stroke="#000" stroke-width="1"/>
<path d="M422.00,299.30 L424.30,304.10 L419.70,304.10 Z" fill="#fff" stroke="#000" stroke-width="1"/>
<path d="M429.00,299.80 L431.30,304.60 L426.70,304.60 Z" fill="#fff" stroke="#000" stroke-width="1"/>
<path d="M436.50,299.80 L438.80,304.60 L434.20,304.60 Z" fill="#fff" stroke="#000" stroke-width="1"/>
<path d="M445.80,299.30 L448.10,304.10 L443.50,304.10 Z" fill="#fff" stroke="#000" stroke-width="1"/>
<path d="M455.80,298.80 L458.10,303.60 L453.50,303.60 Z" fill="#fff" stroke="#000" stroke-width="1"/>
<path d="M463.00,296.80 L465.30,301.60 L460.70,301.60 Z" fill="#fff" stroke="#000" stroke-width="1"/>
<path d="M471.00,299.80 L473.30,304.60 L468.70,304.60 Z" fill="#fff" stroke="#000" stroke-width="1"/>
<path d="M479.50,299.30 L481.80,304.10 L477.20,304.10 Z" fill="#fff" stroke="#000" stroke-width="1"/>
<path d="M513.50,299.80 L515.80,304.60 L511.20,304.60 Z" fill="#fff" stroke="#000" stroke-width="1"/>
<path d="M304.20,299.30 L306.90,302.00 L304.20,304.70 L301.50,302.00 Z" fill="#000"/>
<path d="M310.00,298.80 L312.70,301.50 L310.00,304.20 L307.30,301.50 Z" fill="#000"/>
<path d="M326.80,283.80 L329.50,286.50 L326.80,289.20 L324.10,286.50 Z" fill="#000"/>
<path d="M335.20,293.30 L337.90,296.00 L335.20,298.70 L332.50,296.00 Z" fill="#000"/>
<path d="M344.00,292.60 L346.70,295.30 L344.00,298.00 L341.30,295.30 Z" fill="#000"/>
<path d="M352.50,293.10 L355.20,295.80 L352.50,298.50 L349.80,295.80 Z" fill="#000"/>
<path d="M360.80,295.10 L363.50,297.80 L360.80,300.50 L358.10,297.80 Z" fill="#000"/>
<path d="M369.00,297.30 L371.70,300.00 L369.00,302.70 L366.30,300.00 Z" fill="#000"/>
<path d="M394.50,299.30 L397.20,302.00 L394.50,304.70 L391.80,302.00 Z" fill="#000"/>
<path d="M402.50,296.70 L405.20,299.40 L402.50,302.10 L399.80,299.40 Z" fill="#000"/>
<path d="M411.00,296.90 L413.70,299.60 L411.00,302.30 L408.30,299.60 Z" fill="#000"/>
<path d="M422.00,298.80 L424.70,301.50 L422.00,304.20 L419.30,301.50 Z" fill="#000"/>
<path d="M429.00,299.10 L431.70,301.80 L429.00,304.50 L426.30,301.80 Z" fill="#000"/>
<path d="M436.50,299.10 L439.20,301.80 L436.50,304.50 L433.80,301.80 Z" fill="#000"/>
<path d="M445.80,298.80 L448.50,301.50 L445.80,304.20 L443.10,301.50 Z" fill="#000"/>
<path d="M455.80,294.80 L458.50,297.50 L455.80,300.20 L453.10,297.50 Z" fill="#000"/>
<path d="M463.00,297.30 L465.70,300.00 L463.00,302.70 L460.30,300.00 Z" fill="#000"/>
<path d="M471.00,299.30 L473.70,302.00 L471.00,304.70 L468.30,302.00 Z" fill="#000"/>
<path d="M479.50,298.80 L482.20,301.50 L479.50,304.20 L476.80,301.50 Z" fill="#000"/>
<path d="M513.50,299.30 L516.20,302.00 L513.50,304.70 L510.80,302.00 Z" fill="#000"/>
<rect x="302.30" y="300.10" width="3.8" height="3.8" fill="#fff" stroke="#000" stroke-width="1"/>
<rect x="308.10" y="299.60" width="3.8" height="3.8" fill="#fff" stroke="#000" stroke-width="1"/>
<rect x="324.90" y="299.60" width="3.8" height="3.8" fill="#fff" stroke="#000" stroke-width="1"/>
<rect x="333.30" y="300.30" width="3.8" height="3.8" fill="#fff" stroke="#000" stroke-width="1"/>
<rect x="342.10" y="299.10" width="3.8" height="3.8" fill="#fff" stroke="#000" stroke-width="1"/>
<rect x="350.60" y="297.60" width="3.8" height="3.8" fill="#fff" stroke="#000" stroke-width="1"/>
<rect x="358.90" y="298.60" width="3.8" height="3.8" fill="#fff" stroke="#000" stroke-width="1"/>
<rect x="367.10" y="299.60" width="3.8" height="3.8" fill="#fff" stroke="#000" stroke-width="1"/>
<rect x="392.60" y="300.10" width="3.8" height="3.8" fill="#fff" stroke="#000" stroke-width="1"/>
<rect x="400.60" y="300.10" width="3.8" height="3.8" fill="#fff" stroke="#000" stroke-width="1"/>
<rect x="409.10" y="300.10" width="3.8" height="3.8" fill="#fff" stroke="#000" stroke-width="1"/>
<rect x="420.10" y="299.60" width="3.8" height="3.8" fill="#fff" stroke="#000" stroke-width="1"/>
<rect x="427.10" y="300.10" width="3.8" height="3.8" fill="#fff" stroke="#000" stroke-width="1"/>
<rect x="434.60" y="300.10" width="3.8" height="3.8" fill="#fff" stroke="#000" stroke-width="1"/>
<rect x="443.90" y="299.60" width="3.8" height="3.8" fill="#fff" stroke="#000" stroke-width="1"/>
<rect x="453.90" y="300.10" width="3.8" height="3.8" fill="#fff" stroke="#000" stroke-width="1"/>
<rect x="461.10" y="300.10" width="3.8" height="3.8" fill="#fff" stroke="#000" stroke-width="1"/>
<rect x="469.10" y="300.10" width="3.8" height="3.8" fill="#fff" stroke="#000" stroke-width="1"/>
<rect x="477.60" y="299.60" width="3.8" height="3.8" fill="#fff" stroke="#000" stroke-width="1"/>
<rect x="511.60" y="300.10" width="3.8" height="3.8" fill="#fff" stroke="#000" stroke-width="1"/>
<circle cx="304.40" cy="302.30" r="2.20" fill="#fff" stroke="#000" stroke-width="1"/>
<text x="78.8" y="13.75" font-size="16.8" text-anchor="start" font-weight="normal" fill="#1a1a1a" textLength="90.4" lengthAdjust="spacingAndGlyphs" stroke="#1a1a1a" stroke-width="0.1">Erythrocytes</text>
<text x="371.8" y="13.6" font-size="16.8" text-anchor="start" font-weight="normal" fill="#1a1a1a" textLength="60.6" lengthAdjust="spacingAndGlyphs" stroke="#1a1a1a" stroke-width="0.1">Platelets</text>
<text x="0.5" y="36.2" font-size="26" text-anchor="start" font-weight="bold" fill="#000">A</text>
<text x="0.0" y="192.7" font-size="25.5" text-anchor="start" font-weight="bold" fill="#000">B</text>
<text x="116.2" y="339.3" font-size="14.2" text-anchor="start" font-weight="normal" fill="#1a1a1a" textLength="35.8" lengthAdjust="spacingAndGlyphs" stroke="#1a1a1a" stroke-width="0.05">Weeks</text>
<text x="392.6" y="339.3" font-size="14.2" text-anchor="start" font-weight="normal" fill="#1a1a1a" textLength="35.6" lengthAdjust="spacingAndGlyphs" stroke="#1a1a1a" stroke-width="0.05">Weeks</text>
<text transform="translate(11.0,131.6) rotate(-90)" x="0" y="0" font-size="13.6" fill="#1a1a1a" stroke="#1a1a1a" stroke-width="0.2" textLength="77.1" lengthAdjust="spacingAndGlyphs">% GFP + RBCs</text>
<text transform="translate(11.0,289.2) rotate(-90)" x="0" y="0" font-size="13.6" fill="#1a1a1a" stroke="#1a1a1a" stroke-width="0.2" textLength="78.19999999999999" lengthAdjust="spacingAndGlyphs">% GFP + RBCs</text>
<text transform="translate(284.5,142.6) rotate(-90)" x="0" y="0" font-size="13.6" fill="#1a1a1a" stroke="#1a1a1a" stroke-width="0.2" textLength="98.6" lengthAdjust="spacingAndGlyphs">% GFP + Platelets</text>
<text transform="translate(284.5,300.2) rotate(-90)" x="0" y="0" font-size="13.6" fill="#1a1a1a" stroke="#1a1a1a" stroke-width="0.2" textLength="98.69999999999999" lengthAdjust="spacingAndGlyphs">% GFP + Platelets</text>
<line x1="140.5" y1="19.6" x2="140.5" y2="38.0" stroke="#111" stroke-width="1.3"/>
<path d="M136.1,34.0 Q140.5,36.5 144.9,34.0 L140.5,42.0 Z" fill="#111"/>
<line x1="186.4" y1="19.6" x2="186.4" y2="38.0" stroke="#111" stroke-width="1.3"/>
<path d="M182.0,34.0 Q186.4,36.5 190.8,34.0 L186.4,42.0 Z" fill="#111"/>
<line x1="222.0" y1="19.6" x2="222.0" y2="38.0" stroke="#111" stroke-width="1.3"/>
<path d="M217.6,34.0 Q222.0,36.5 226.4,34.0 L222.0,42.0 Z" fill="#111"/>
<line x1="419.8" y1="18.5" x2="419.8" y2="36.4" stroke="#111" stroke-width="1.3"/>
<path d="M415.40000000000003,32.4 Q419.8,34.9 424.2,32.4 L419.8,40.4 Z" fill="#111"/>
<line x1="459.5" y1="18.5" x2="459.5" y2="36.4" stroke="#111" stroke-width="1.3"/>
<path d="M455.1,32.4 Q459.5,34.9 463.9,32.4 L459.5,40.4 Z" fill="#111"/>
<line x1="497.3" y1="18.5" x2="497.3" y2="36.4" stroke="#111" stroke-width="1.3"/>
<path d="M492.90000000000003,32.4 Q497.3,34.9 501.7,32.4 L497.3,40.4 Z" fill="#111"/>
<line x1="91.7" y1="175.6" x2="91.7" y2="193.6" stroke="#111" stroke-width="1.3"/>
<path d="M87.3,189.6 Q91.7,192.1 96.10000000000001,189.6 L91.7,197.6 Z" fill="#111"/>
<line x1="141.8" y1="175.6" x2="141.8" y2="193.6" stroke="#111" stroke-width="1.3"/>
<path d="M137.4,189.6 Q141.8,192.1 146.20000000000002,189.6 L141.8,197.6 Z" fill="#111"/>
<line x1="369.5" y1="177.0" x2="369.5" y2="194.6" stroke="#111" stroke-width="1.3"/>
<path d="M365.1,190.6 Q369.5,193.1 373.9,190.6 L369.5,198.6 Z" fill="#111"/>
<line x1="421.3" y1="177.0" x2="421.3" y2="194.6" stroke="#111" stroke-width="1.3"/>
<path d="M416.90000000000003,190.6 Q421.3,193.1 425.7,190.6 L421.3,198.6 Z" fill="#111"/></svg>
</body></html>
